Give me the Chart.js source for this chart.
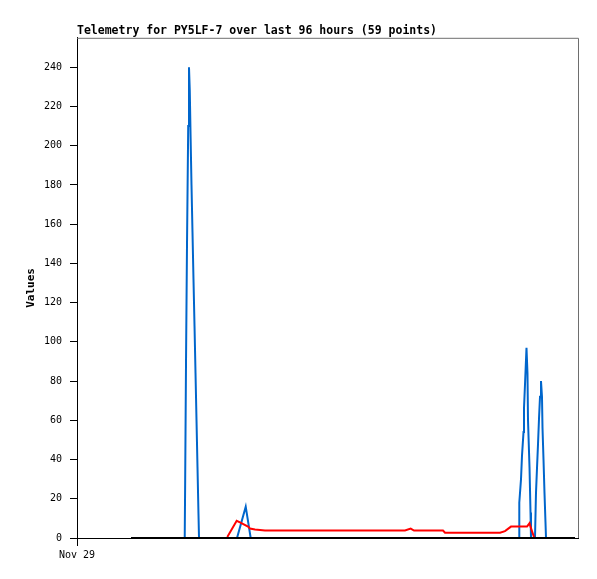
<!DOCTYPE html>
<html>
<head>
<meta charset="utf-8">
<script src="https://cdn.jsdelivr.net/npm/chart.js@4/dist/chart.umd.min.js"></script>
<style>
  html, body { margin: 0; padding: 0; background: #fff; }
  #wrap { width: 597px; height: 579px; }
</style>
</head>
<body>
<div id="wrap"><canvas id="telemetry"></canvas></div>
<script>
// hours since Nov 29 00:00
const blueX = [20.64, 20.73, 20.89, 21.08, 21.31, 21.46, 21.61, 21.77, 21.94, 22.13, 22.32, 22.52, 22.71, 22.90, 23.09, 23.28, 23.38,
  27.0,
  30.66, 32.33, 33.28,
  60.0,
  84.70, 84.75, 85.08, 85.27, 85.56, 85.65, 85.84, 86.13, 86.32, 86.42, 86.71, 86.90, 86.99,
  87.4,
  87.76, 87.95, 88.15, 88.34, 88.53, 88.72, 88.91, 89.10, 89.20, 89.39, 89.58, 89.77, 89.87];
const blueY = [0, 30, 90, 150, 210, 240, 228, 204, 180, 156, 132, 108, 84, 60, 36, 12, 0,
  null,
  0, 16, 0,
  null,
  0, 18, 30, 42, 54, 66, 78, 97, 84, 60, 36, 13, 0,
  null,
  0, 23, 36, 48, 61, 72, 80, 72, 56, 40, 23, 8, 0];

const redX = [28.80, 30.60, 31.23, 32.77, 33.15, 34.11, 36.02, 62.85, 63.94, 64.58, 70.13, 70.52, 81.06, 82.01, 83.16, 86.23, 86.71, 86.99, 87.63];
const redY = [0.5, 8.8, 8, 5.8, 4.8, 4.3, 3.8, 3.8, 4.8, 3.8, 3.8, 2.7, 2.7, 3.5, 5.8, 5.8, 7.5, 5, 0];

const blackX = [10.35, 95.43];
const blackY = [0, 0];

const xTickLabels = ['Nov 29'];
const yTickStep = 20;

const pts = (xs, ys) => xs.map((x, i) => ({ x: x, y: ys[i] }));

const mono = 'DejaVu Sans Mono, Liberation Mono, monospace';

// gray top and right edges of the plot frame
const frameEdges = {
  id: 'frameEdges',
  beforeDatasetsDraw(chart) {
    const a = chart.chartArea;
    const ctx = chart.ctx;
    ctx.save();
    ctx.strokeStyle = '#6e6e6e';
    ctx.lineWidth = 1;
    ctx.beginPath();
    ctx.moveTo(a.left, a.top + 0.5);
    ctx.lineTo(a.right + 0.5, a.top + 0.5);
    ctx.lineTo(a.right + 0.5, a.bottom);
    ctx.stroke();
    ctx.restore();
  }
};

new Chart(document.getElementById('telemetry'), {
  type: 'line',
  data: {
    datasets: [
      {
        label: 'zero',
        data: pts(blackX, blackY),
        borderColor: '#000000',
        borderWidth: 2
      },
      {
        label: 'red',
        data: pts(redX, redY),
        borderColor: '#ff0000',
        borderWidth: 2
      },
      {
        label: 'blue',
        data: pts(blueX, blueY),
        borderColor: '#0066cc',
        borderWidth: 2
      }
    ]
  },
  options: {
    responsive: true,
    maintainAspectRatio: false,
    animation: false,
    layout: { padding: { left: 0, right: 19, top: 0, bottom: 0 } },
    elements: {
      point: { radius: 0, hoverRadius: 0 },
      line: { tension: 0, borderCapStyle: 'butt' }
    },
    plugins: {
      legend: { display: false },
      tooltip: { enabled: false },
      title: {
        display: true,
        text: 'Telemetry for PY5LF-7 over last 96 hours (59 points)',
        align: 'start',
        fullSize: false,
        color: '#000',
        font: { family: mono, size: 11.5, weight: 'bold' },
        padding: { top: 24, bottom: 0 }
      }
    },
    scales: {
      x: {
        type: 'linear',
        min: 0,
        max: 96,
        afterFit(scale) { scale.height = 41; },
        afterBuildTicks(scale) { scale.ticks = [{ value: 0 }]; },
        ticks: {
          autoSkip: false,
          maxRotation: 0,
          padding: 3,
          color: '#000',
          font: { family: mono, size: 10 },
          callback: (v, i) => xTickLabels[i]
        },
        grid: { drawOnChartArea: false, drawTicks: true, tickLength: 8, color: '#000' },
        border: { color: '#000', width: 1 }
      },
      y: {
        min: 0,
        max: 255,
        afterFit(scale) { scale.width = 77; },
        ticks: {
          stepSize: yTickStep,
          includeBounds: false,
          padding: 8,
          color: '#000',
          font: { family: mono, size: 10 }
        },
        grid: { drawOnChartArea: false, drawTicks: true, tickLength: 7, color: '#000' },
        border: { color: '#000', width: 1 },
        title: {
          display: true,
          text: 'Values',
          color: '#000',
          font: { family: mono, size: 11, weight: 'bold' },
          padding: { top: 25, bottom: 0 }
        }
      }
    }
  },
  plugins: [frameEdges]
});
</script>
</body>
</html>
